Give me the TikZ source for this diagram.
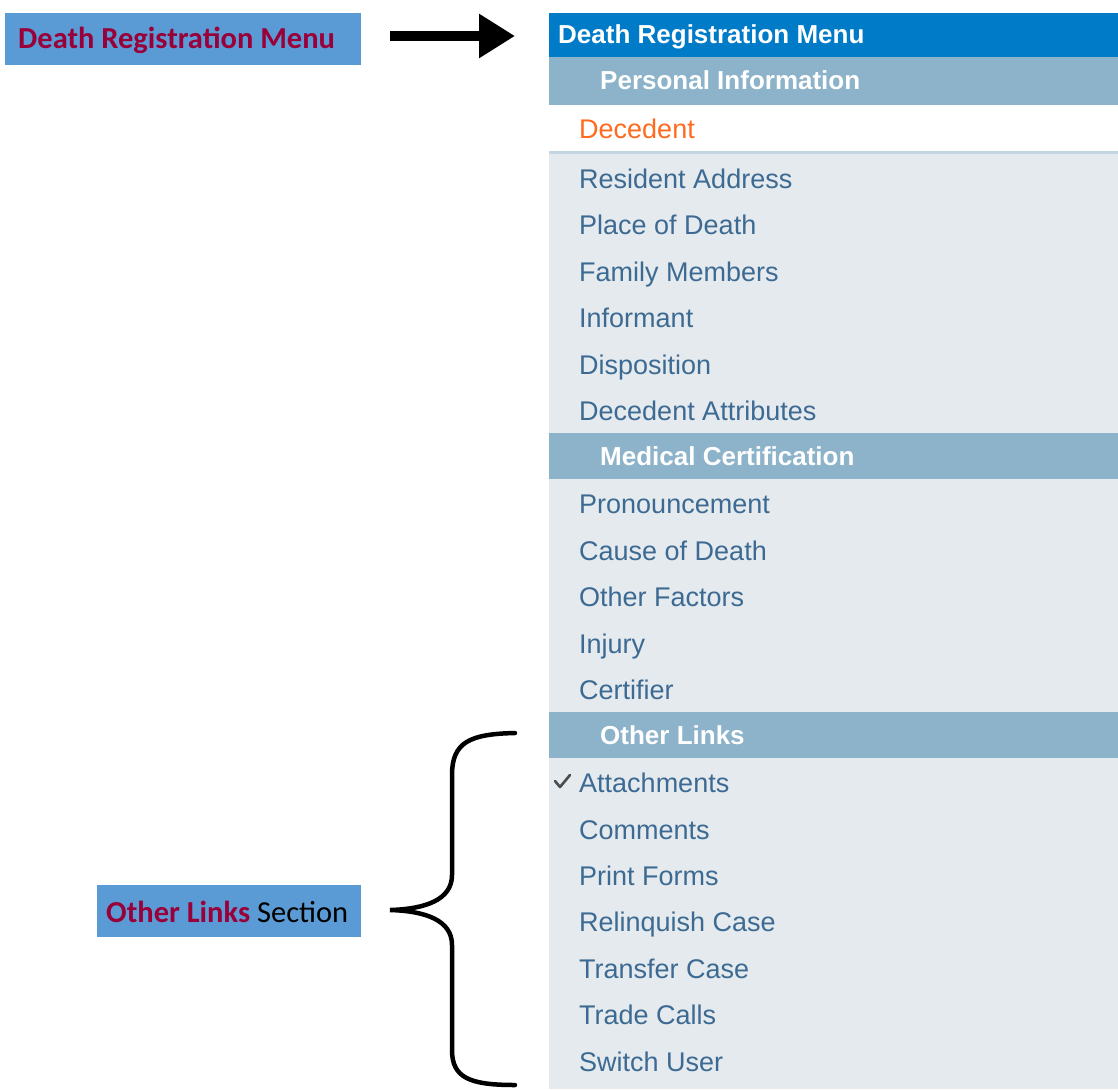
\documentclass[tikz,border=0pt]{standalone}
\usepackage{fontspec}
\setmainfont{Liberation Sans}
\newfontfamily\calfont{Carlito}
\usetikzlibrary{arrows.meta}
\definecolor{hdrblue}{HTML}{007BC7}
\definecolor{secbar}{HTML}{8CB3C9}
\definecolor{rowgray}{HTML}{E4EAEE}
\definecolor{itemtxt}{HTML}{3D6A92}
\definecolor{orangetxt}{HTML}{FF6A1F}
\definecolor{sepline}{HTML}{C3D5E0}
\definecolor{lblfill}{HTML}{5B9BD5}
\definecolor{lblred}{HTML}{99003A}
\begin{document}
\begin{tikzpicture}[x=1pt,y=-1pt,
  item/.style={anchor=base west,inner sep=0pt,text=itemtxt,font=\fontsize{27}{31}\selectfont},
  sec/.style={anchor=base west,inner sep=0pt,text=white,font=\bfseries\fontsize{26}{30}\selectfont},
  lbl/.style={fill=lblfill,inner sep=0pt}]
\useasboundingbox (0,0) rectangle (1118,1089);
% panel backgrounds
\fill[rowgray] (549,151) rectangle (1118,1089);
\fill[white] (549,105) rectangle (1118,151);
\fill[sepline] (549,151) rectangle (1118,154);
\fill[hdrblue] (549,13) rectangle (1118,57);
\fill[secbar] (549,57) rectangle (1118,105);
\fill[secbar] (549,433) rectangle (1118,479);
\fill[secbar] (549,712) rectangle (1118,758);
% header
\node[sec] (hdr) at (558,44) {Death Registration Menu};
\node[sec] (s1) at (600,90) {Personal Information};
\node[sec] (s2) at (600,465) {Medical Certification};
\node[sec] (s3) at (600,744) {Other Links};
\node[item,text=orangetxt] (i0) at (579,139) {Decedent};
\foreach \n/\y/\t in {i1/188/Resident Address, i2/234/Place of Death, i3/281/Family Members,
  i4/327/Informant, i5/374/Disposition, i6/420/Decedent Attributes,
  i7/513/Pronouncement, i8/560/Cause of Death, i9/606/Other Factors, i10/653/Injury,
  i11/699/Certifier, i12/792/Attachments, i13/839/Comments, i14/885/Print Forms,
  i15/931/Relinquish Case, i16/978/Transfer Case, i17/1024/Trade Calls, i18/1071/Switch User}
  {\node[item] (\n) at (579,\y) {\t};}
% check mark
\draw[line width=2.6pt,color=black!70,line cap=round,line join=round] (555,781) -- (560,787) -- (570,775);
% labels
\node[lbl,minimum width=356pt,minimum height=52pt,anchor=north west] (lab1) at (5,13) {};
\node[anchor=west,inner sep=0pt,text=lblred,font=\calfont\bfseries\fontsize{30.5}{34}\selectfont] (lab1t) at (18,40) {Death Registration Menu};
\node[lbl,minimum width=264pt,minimum height=52pt,anchor=north west] (lab2) at (97,885) {};
\node[anchor=west,inner sep=0pt,font=\calfont\fontsize{30.5}{34}\selectfont] (lab2t) at (106,912) {\textcolor{lblred}{\bfseries Other Links} Section};
% arrow
\coordinate (aS) at (390,36);
\coordinate (aE) at (515,36);
\draw[line width=10pt,-{Triangle[length=36pt,width=42pt]}] (aS) -- (aE);
% brace
\draw[line width=4.5pt,line cap=round] (515,733) .. controls (470,734) and (452,742) .. (452,775) -- (452,875)
  .. controls (452,900) and (425,909) .. (390,910)
  .. controls (425,911) and (452,920) .. (452,945) -- (452,1050)
  .. controls (452,1078) and (470,1085) .. (515,1085);
\end{tikzpicture}
\end{document}
